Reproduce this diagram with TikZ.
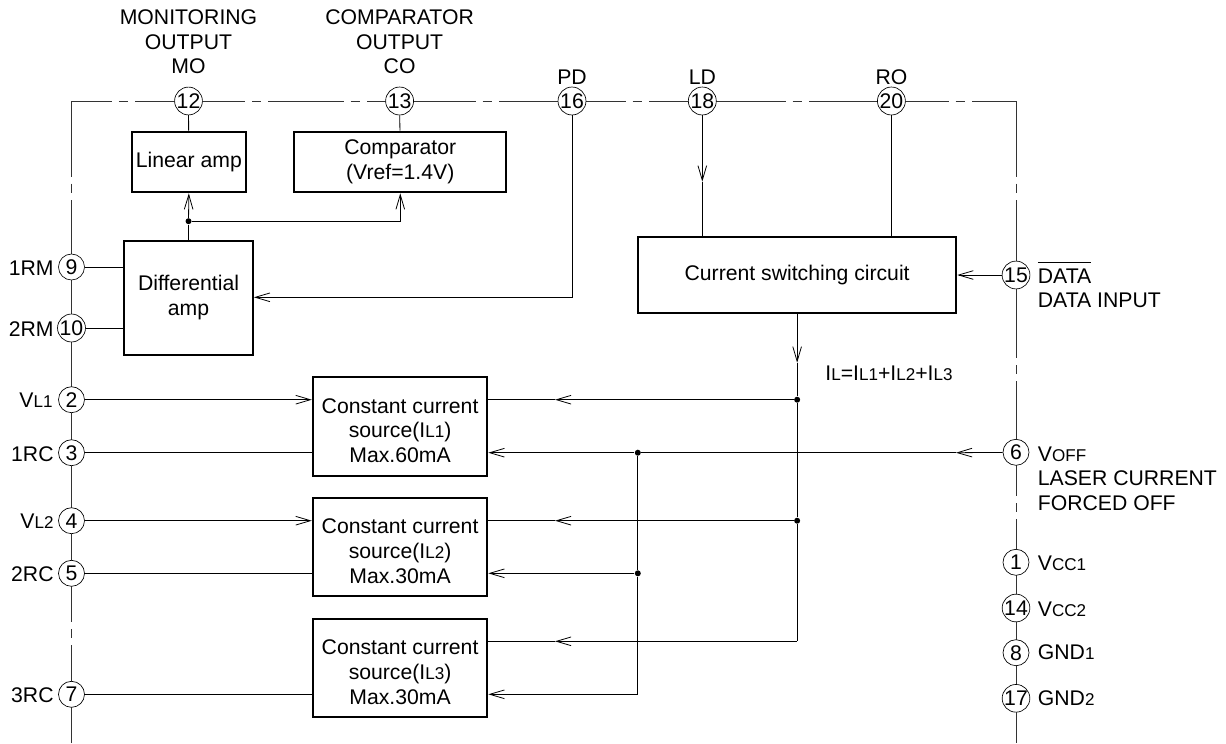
\documentclass[tikz,border=0pt]{standalone}
\usepackage{fontspec}
\setmainfont{Liberation Sans}
\usetikzlibrary{arrows.meta}

\newcommand{\sm}[1]{{\fontsize{12.8}{14}\selectfont #1}}
\newcommand{\ccup}{\rule{0pt}{17.5pt}}

\tikzset{
  >={Straight Barb[length=11pt,width=6.5pt]},
  pin/.style={circle,draw,fill=white,inner sep=0pt,minimum size=19.5pt,line width=.5pt},
  block/.style={draw,line width=1.6pt,align=center,inner sep=0pt,anchor=north west,xshift=-.6pt,yshift=.6pt},
  wire/.style={line width=.6pt},
  dot/.style={circle,fill,inner sep=0pt,minimum size=4.5pt},
  lbl/.style={inner sep=0pt,align=center},
  lbll/.style={inner sep=0pt,align=left,anchor=west},
  lblr/.style={inner sep=0pt,anchor=east},
}

\begin{document}
\begin{tikzpicture}[x=.75pt,y=-.75pt,font=\fontsize{15.9}{18.5}\selectfont,wire]
  \useasboundingbox (0,0) rectangle (1226,743);

  \coordinate (tl) at (71.5,101);
  \coordinate (tr) at (1016,101);
  \coordinate (bl) at (71.5,743);
  \coordinate (br) at (1016,743);
  \draw[color=black!80] (bl) -- (tl) -- (tr) -- (br);
  \foreach \x in {123.3,256.7,355,487,637,797,960} {
    \draw[white,line width=2pt] (\x-11.5,101) -- (\x+11.5,101);
    \draw[color=black!80] (\x-4.5,101) -- (\x+4.5,101);
  }
  \foreach \x/\y in {71.5/188,71.5/633.5,1016/188,1016/369.5,1016/507.5} {
    \draw[white,line width=2pt] (\x,\y-11.5) -- (\x,\y+11.5);
    \draw[color=black!80] (\x,\y-4.5) -- (\x,\y+4.5);
  }

  \foreach \n/\x in {12/188.5,13/399.6,16/572,18/702.3,20/891.4}
    \node[pin] (p\n) at (\x,101) {\n};
  \foreach \n/\y in {9/267,10/328,2/399.7,3/452.7,4/520.7,5/573.3,7/694.3}
    \node[pin] (p\n) at (71.5,\y) {\n};
  \foreach \n/\y in {15/275,6/452.3,1/562.3,14/608,8/652.7,17/698.3}
    \node[pin] (p\n) at (1016,\y) {\n};

  \node[block,minimum width=85.4pt,minimum height=45.5pt] (linamp) at (131.6,131.3) {Linear amp};
  \node[block,minimum width=159pt,minimum height=45.5pt] (comp) at (294,131.3) {Comparator\\(Vref=1.4V)};
  \node[block,minimum width=96.4pt,minimum height=85.2pt] (diff) at (124,240.7) {Differential\\amp};
  \node[block,minimum width=238.6pt,minimum height=57pt] (sw) at (637.8,237) {Current switching circuit};
  \node[block,minimum width=130.8pt,minimum height=74pt] (cc1) at (312.6,376.7)
    {\ccup Constant current\\source(I\sm{L1})\\Max.60mA};
  \node[block,minimum width=130.8pt,minimum height=74pt] (cc2) at (312.6,497.3)
    {\ccup Constant current\\source(I\sm{L2})\\Max.30mA};
  \node[block,minimum width=130.8pt,minimum height=74pt] (cc3) at (312.6,618.3)
    {\ccup Constant current\\source(I\sm{L3})\\Max.30mA};

  \node[lbl] (lmo) at (188.5,42) {MONITORING\\OUTPUT\\MO};
  \node[lbl] (lco) at (399.6,42) {COMPARATOR\\OUTPUT\\CO};
  \node[lbl] (lpd) at (572,77) {PD};
  \node[lbl] (lld) at (702.3,77) {LD};
  \node[lbl] (lro) at (891.4,77) {RO};

  \node[lblr] (l9) at (54,268) {1RM};
  \node[lblr] (l10) at (54,329) {2RM};
  \node[lblr] (l2) at (53,400.5) {V\sm{L1}};
  \node[lblr] (l3) at (54,454) {1RC};
  \node[lblr] (l4) at (54,521.5) {V\sm{L2}};
  \node[lblr] (l5) at (54,574.5) {2RC};
  \node[lblr] (l7) at (54,695.5) {3RC};

  \node[inner sep=0pt,anchor=base west] (l15) at (1037.5,283) {$\overline{\mbox{\rule{0pt}{14.4pt}DATA}}$};
  \node[lbll] (l15b) at (1037.5,300.7) {DATA INPUT};
  \node[lbll] (l6) at (1037.5,454) {V\sm{OFF}};
  \node[lbll] (l6b) at (1037.5,490.5) {LASER CURRENT\\FORCED OFF};
  \node[lbll] (l1) at (1037.5,563) {V\sm{CC1}};
  \node[lbll] (l14) at (1037.5,609.5) {V\sm{CC2}};
  \node[lbll] (l8) at (1037.5,652.5) {GND\sm{1}};
  \node[lbll] (l17) at (1037.5,698.5) {GND\sm{2}};
  \node[lbll] (lil) at (825,373.5) {I\sm{L}=I\sm{L1}+I\sm{L2}+I\sm{L3}};

  \draw (p12) -- (linamp);
  \draw (p13) -- (comp);
  \path (diff.north) +(0,-18.7) node[dot] (jamp) {};
  \draw (diff.north) -- (jamp);
  \draw[->] (jamp) -- (linamp.south);
  \draw[->] (jamp) -| (comp.south);
  \draw[->] (p16) |- (diff.east |- 572,297.3);
  \draw (p9) -- (p9 -| diff.west);
  \draw (p10) -- (p10 -| diff.west);

  \coordinate (ldt) at (702.3,181.7);
  \draw[->] (p18) -- (ldt);
  \draw (ldt) -- (ldt |- sw.north);
  \draw (p20) -- (p20 |- sw.north);
  \draw[->] (p15) -- (p15 -| sw.east);

  \coordinate (swt) at (sw.south |- 0,362.7);
  \draw[->] (sw.south) -- (swt);
  \node[dot] (j1) at (sw.south |- p2) {};
  \node[dot] (j2) at (sw.south |- p4) {};
  \coordinate (bus) at (sw.south |- 0,641.3);
  \draw (swt) -- (j1);
  \draw (j1) -- (j2);
  \draw (j2) -- (bus);

  \coordinate (t1) at (555,399.7);
  \coordinate (t2) at (555,520.7);
  \coordinate (t3) at (555,641.3);
  \draw[->] (j1) -- (t1);
  \draw (t1) -- (t1 -| cc1.east);
  \draw[->] (j2) -- (t2);
  \draw (t2) -- (t2 -| cc2.east);
  \draw[->] (bus) -- (t3);
  \draw (t3) -- (t3 -| cc3.east);

  \draw[->] (p2) -- (p2 -| cc1.west);
  \draw (p3) -- (p3 -| cc1.west);
  \draw[->] (p4) -- (p4 -| cc2.west);
  \draw (p5) -- (p5 -| cc2.west);
  \draw (p7) -- (p7 -| cc3.west);

  \coordinate (off) at (956,452.7);
  \node[dot] (j3) at (637.8,452.7) {};
  \node[dot] (j4) at (637.8,573.3) {};
  \coordinate (rc3) at (637.8,694.3);
  \draw[->] (p6) -- (off);
  \draw (off) -- (j3);
  \draw[->] (j3) -- (j3 -| cc1.east);
  \draw[->] (j4) -- (j4 -| cc2.east);
  \draw[->] (rc3) -- (rc3 -| cc3.east);
  \draw (j3) -- (j4);
  \draw (j4) -- (rc3);
\end{tikzpicture}
\end{document}
